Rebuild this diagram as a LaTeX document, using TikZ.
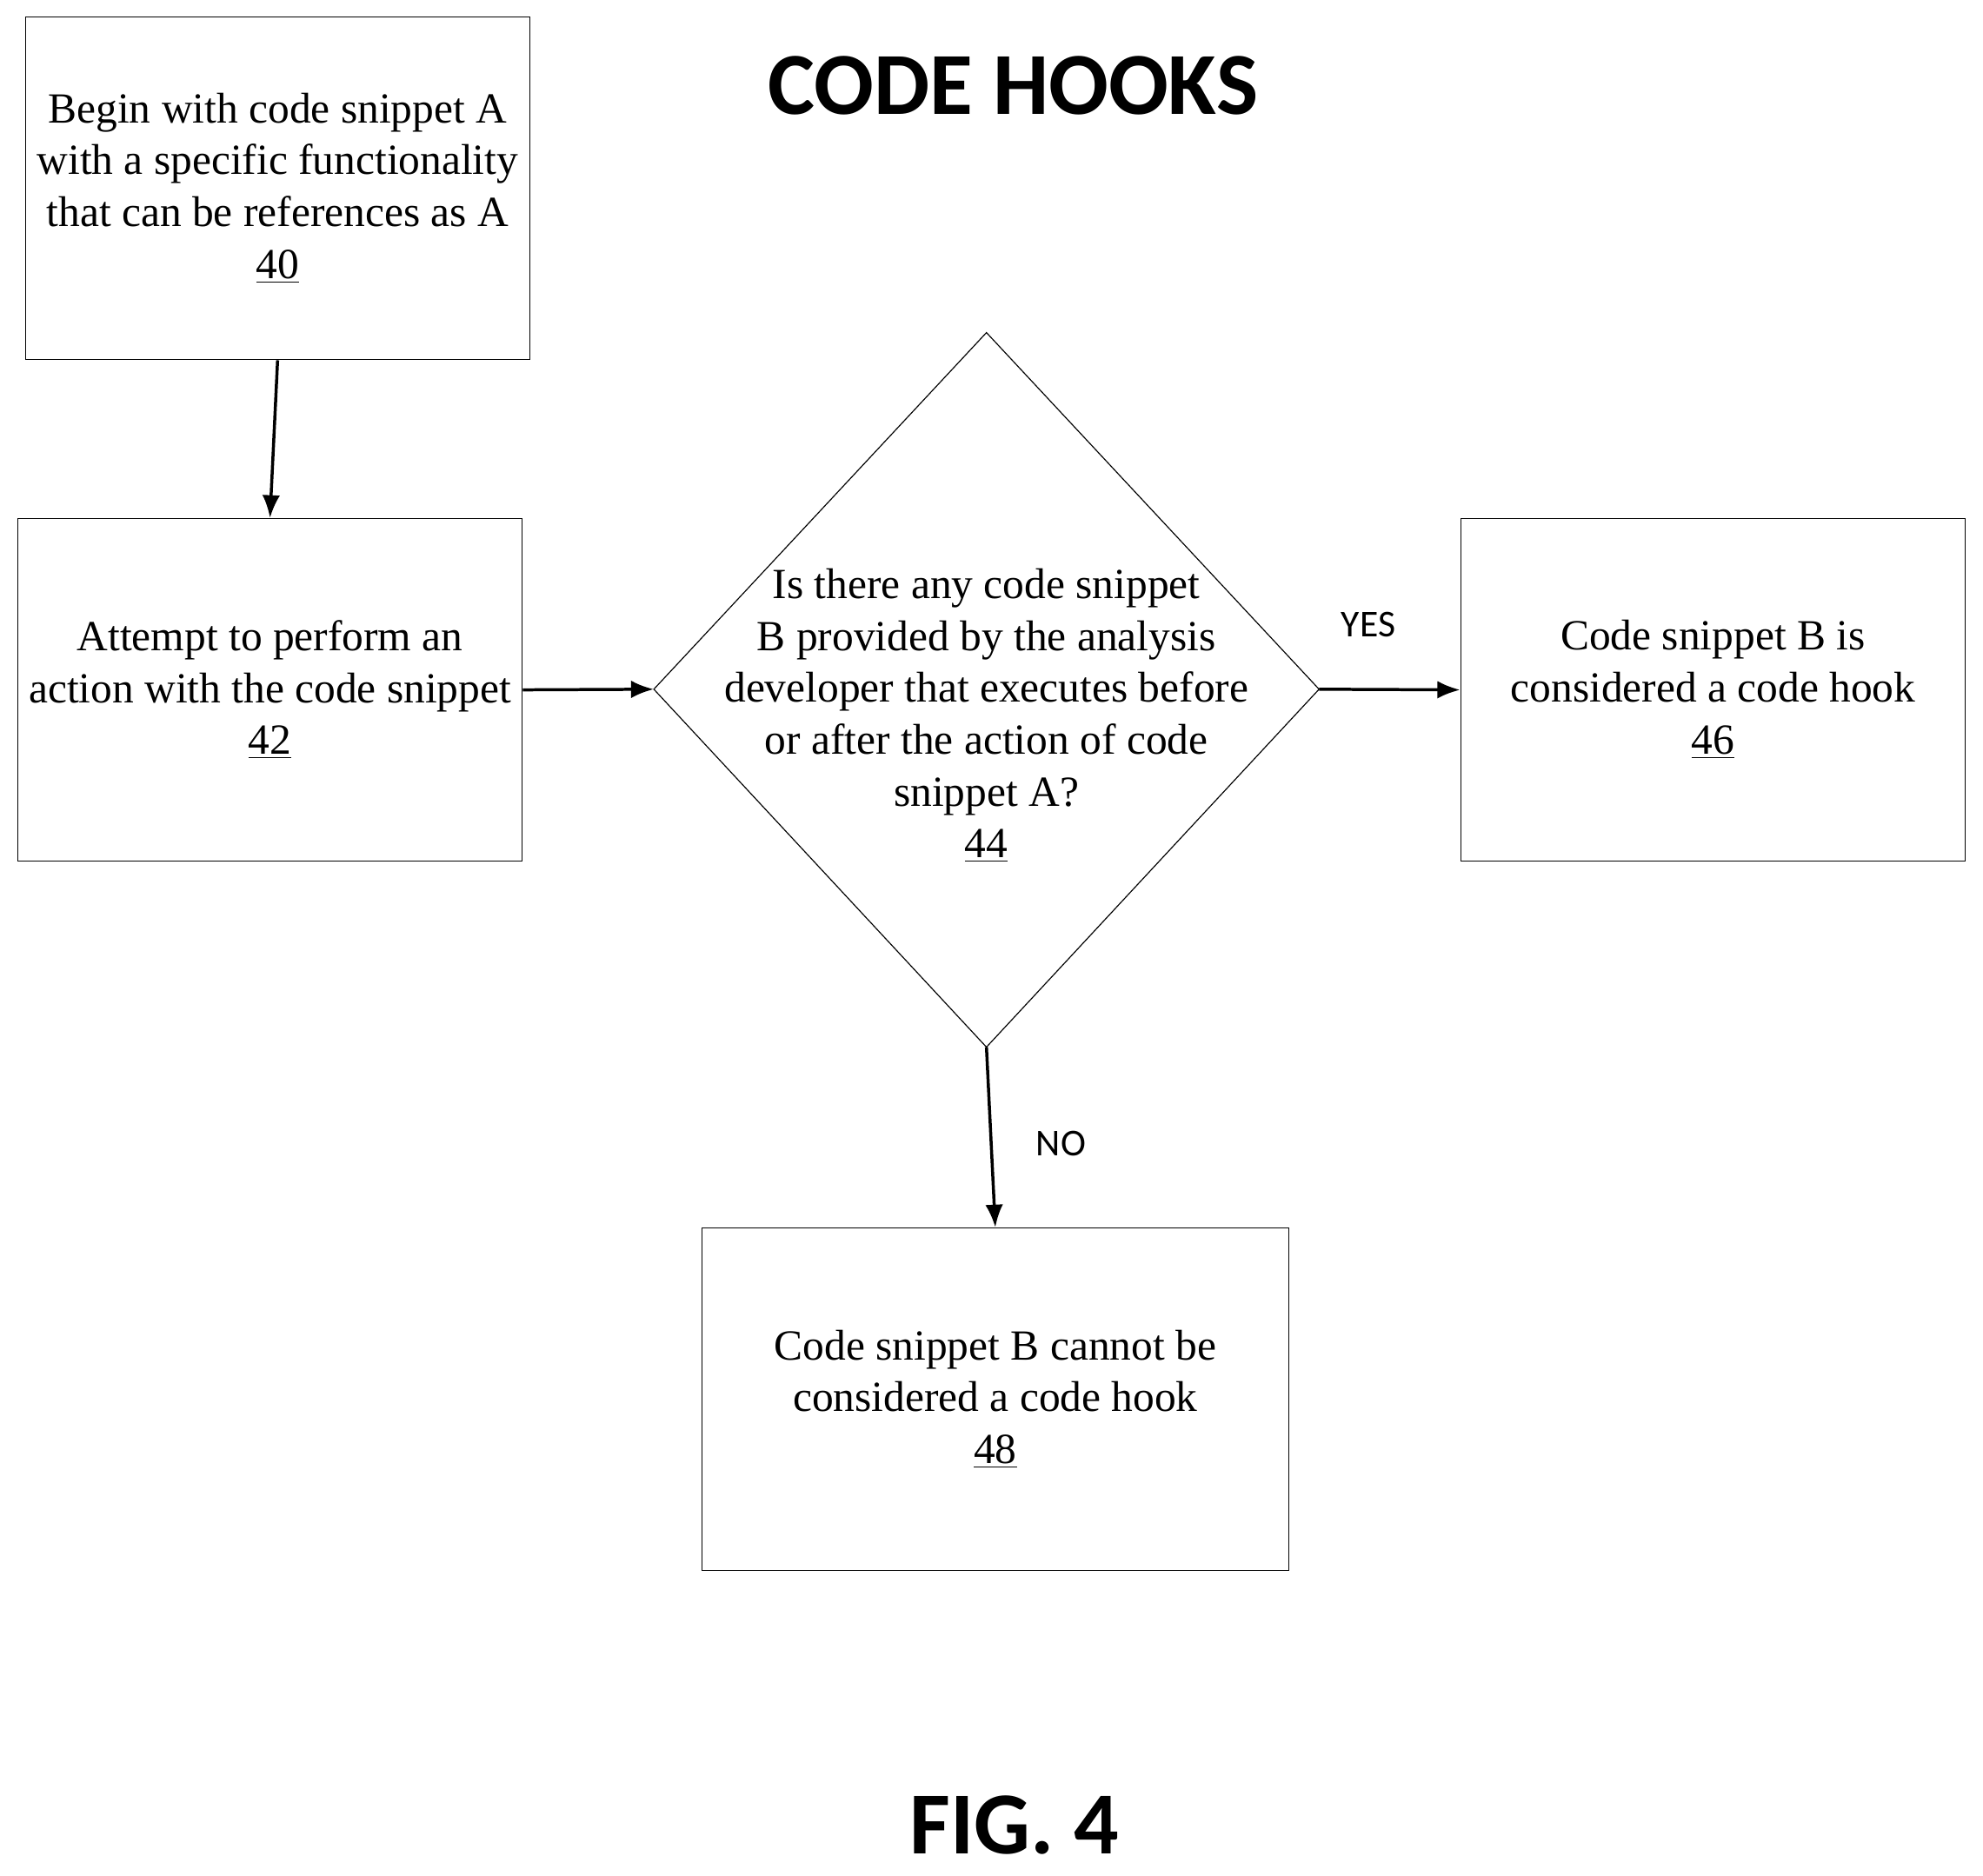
\documentclass[tikz,border=0pt]{standalone}
\usepackage{fontspec}
\setmainfont{Liberation Serif}
\newfontfamily\calib{Carlito}
\usetikzlibrary{arrows.meta}
\begin{document}
\begin{tikzpicture}[x=0.5pt,y=-0.5pt,
  box/.style={draw,line width=0.4pt,minimum width=199.5pt,minimum height=135.5pt,align=center,inner sep=0pt,font=\fontsize{17}{20.5}\selectfont},
  arr/.style={-{Latex[length=9pt,width=7pt]},line width=1.2pt},
  lab/.style={font=\calib\fontsize{15}{18}\selectfont}]
\useasboundingbox (0,0) rectangle (1568,1483);
\node[font=\calib\bfseries\fontsize{35}{40}\selectfont] (title) at (801,68) {CODE HOOKS};
\node[font=\calib\bfseries\fontsize{35}{40}\selectfont] (fig) at (802,1443) {FIG. 4};
\node[box] (b40) at (219.5,149) {Begin with code snippet A\\with a specific functionality\\that can be references as A\\\underline{40}};
\node[box] (b42) at (213.5,545.5) {Attempt to perform an\\action with the code snippet\\\underline{42}};
\node[box] (b46) at (1354.5,545.5) {Code snippet B is\\considered a code hook\\\underline{46}};
\node[box,minimum width=232pt] (b48) at (787,1106.5) {Code snippet B cannot be\\considered a code hook\\\underline{48}};
\coordinate (dt) at (780,263);
\coordinate (db) at (780,828);
\coordinate (dl) at (517,545);
\coordinate (dr) at (1043,545);
\draw[line width=0.4pt] (dt) -- (dr) -- (db) -- (dl) -- cycle;
\node[align=center,font=\fontsize{17}{20.5}\selectfont] (t44) at (780,566) {Is there any code snippet\\B provided by the analysis\\developer that executes before\\or after the action of code\\snippet A?\\\underline{44}};
\draw[arr] (b40.south) -- (b42.north);
\draw[arr] (b42.east) -- (dl);
\draw[arr] (dr) -- (b46.west);
\draw[arr] (db) -- (b48.north);
\node[lab] (yes) at (1082,494) {YES};
\node[lab] (no) at (839,904) {NO};
\end{tikzpicture}
\end{document}
